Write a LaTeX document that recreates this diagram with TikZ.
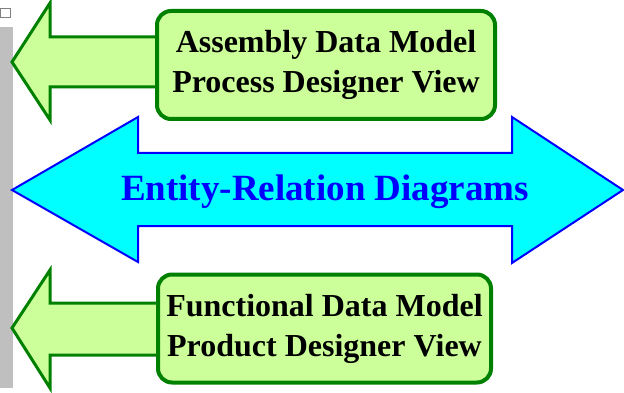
\documentclass[tikz,border=0pt]{standalone}
\usepackage{fontspec}
\setmainfont{Liberation Serif}
\definecolor{lightgreen}{RGB}{204,255,153}
\definecolor{darkgreen}{RGB}{0,128,0}
\definecolor{erblue}{RGB}{0,0,255}
\definecolor{ercyan}{RGB}{0,255,255}
\tikzset{
  viewbox/.style={draw=darkgreen, line width=4pt, fill=lightgreen, rounded corners=14pt,
    minimum width=338pt, minimum height=108pt, align=center,
    font=\fontsize{32}{40}\selectfont\bfseries},
  greenarrow/.style={draw=darkgreen, line width=3pt, fill=lightgreen, line join=miter},
  erarrow/.style={draw=erblue, line width=2pt, fill=ercyan, line join=miter}
}
\begin{document}
\begin{tikzpicture}[x=1pt, y=-1pt]
        \useasboundingbox (0,0) rectangle (624,393);
        % scroll bar at the left edge
        \fill [gray!50] (0,27) rectangle (13,388);
        \draw [gray, line width=0.5pt] (0.5,8) rectangle (10,17);
        % arrows pointing left, behind the boxes
        \draw [greenarrow] (180,37) -- (50,37) -- (50,3) -- (12,62) -- (50,120) -- (50,87) -- (180,87);
        \draw [greenarrow] (180,303) -- (50,303) -- (50,270) -- (12,328) -- (50,388) -- (50,355) -- (180,355);
        % boxes
        \node [viewbox] (ADM) at (326, 65) {Assembly Data Model\\Process Designer View};
        \node [viewbox, minimum width=333pt] (FDM) at (324.5, 328.5) {Functional Data Model\\Product Designer View};
        % double arrow
        \draw [erarrow] (12,190) -- (138,117) -- (138,153) -- (512,153) -- (512,117) -- (623,190)
              -- (512,263) -- (512,226) -- (138,226) -- (138,262) -- cycle;
        \node [text=erblue, font=\fontsize{37}{40}\selectfont\bfseries] (ERD) at (325, 192) {Entity-Relation Diagrams};
    \end{tikzpicture}
\end{document}
